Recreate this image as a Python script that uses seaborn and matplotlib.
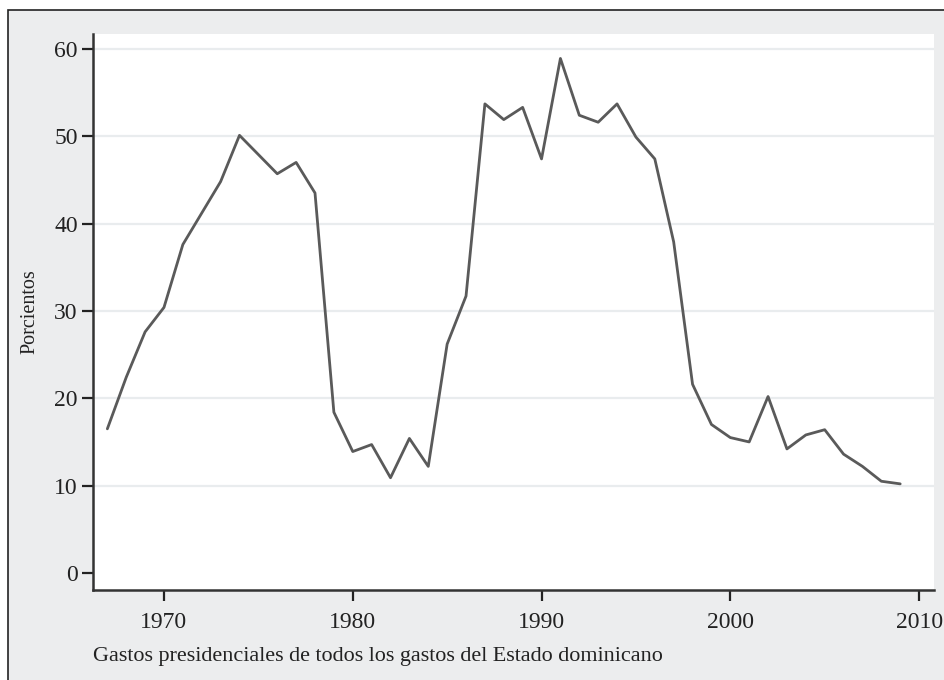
import numpy as np
import pandas as pd
import matplotlib.pyplot as plt
import matplotlib.patches as patches
import seaborn as sns

# Datos (porcentaje de gastos presidenciales)
anios = list(range(1967, 2010))
porcientos = [16.5, 22.4, 27.6, 30.4, 37.6, 41.2, 44.8, 50.1, 47.9, 45.7,
              47.0, 43.5, 18.4, 13.9, 14.7, 10.9, 15.4, 12.2, 26.2, 31.7,
              53.7, 51.9, 53.3, 47.4, 58.9, 52.4, 51.6, 53.7, 49.9, 47.4,
              37.9, 21.6, 17.0, 15.5, 15.0, 20.2, 14.2, 15.8, 16.4, 13.6,
              12.2, 10.5, 10.2]
yticks = [0, 10, 20, 30, 40, 50, 60]
xticks = [1970, 1980, 1990, 2000, 2010]

df = pd.DataFrame({"anio": anios, "porcientos": porcientos})

sns.set_theme(style="white")
plt.rcParams['font.family'] = ['Liberation Serif', 'DejaVu Serif']

fig = plt.figure(figsize=(9.45, 6.8), dpi=100)
fig.patch.set_facecolor("white")

# Fondo gris con borde (estilo Stata), bordes derecho/inferior fuera de la figura
fondo = patches.Rectangle((8 / 945, -0.05), 1.05, 1.05 - 10 / 680, transform=fig.transFigure,
                          facecolor="#ecedee", edgecolor="#222222", linewidth=1.2,
                          zorder=-10)
fig.patches.append(fondo)

ax = fig.add_axes([93 / 945, 1 - 590 / 680, (934 - 93) / 945, (590 - 34) / 680])
ax.set_facecolor("white")

sns.lineplot(data=df, x="anio", y="porcientos", ax=ax, color="#5a5a5a",
             linewidth=2.0)

ax.set_xlim(1966.24, 2010.79)
ax.set_ylim(-1.95, 61.7)
ax.set_xticks(xticks)
ax.set_yticks(yticks)
ax.tick_params(axis="both", which="major", bottom=True, left=True,
               labelsize=17, colors="#222222", length=8, width=1.6,
               direction="out", pad=3)
ax.tick_params(axis="x", pad=8)

for y in yticks[1:]:
    ax.axhline(y, color="#e9ecee", linewidth=1.6, zorder=0)

for s in ["top", "right"]:
    ax.spines[s].set_visible(False)
for s in ["left", "bottom"]:
    ax.spines[s].set_color("#333333")
    ax.spines[s].set_linewidth(1.8)

ax.set_xlabel("")
ax.set_ylabel("Porcientos", fontsize=14.5, color="#222222")
ax.yaxis.set_label_coords(-54 / 841, 0.5)

fig.text(93 / 945, 1 - 661 / 680, "Gastos presidenciales de todos los gastos del Estado dominicano",
         fontsize=15.9, color="#222222", ha="left", va="baseline")

plt.savefig("out.png", dpi=100)
